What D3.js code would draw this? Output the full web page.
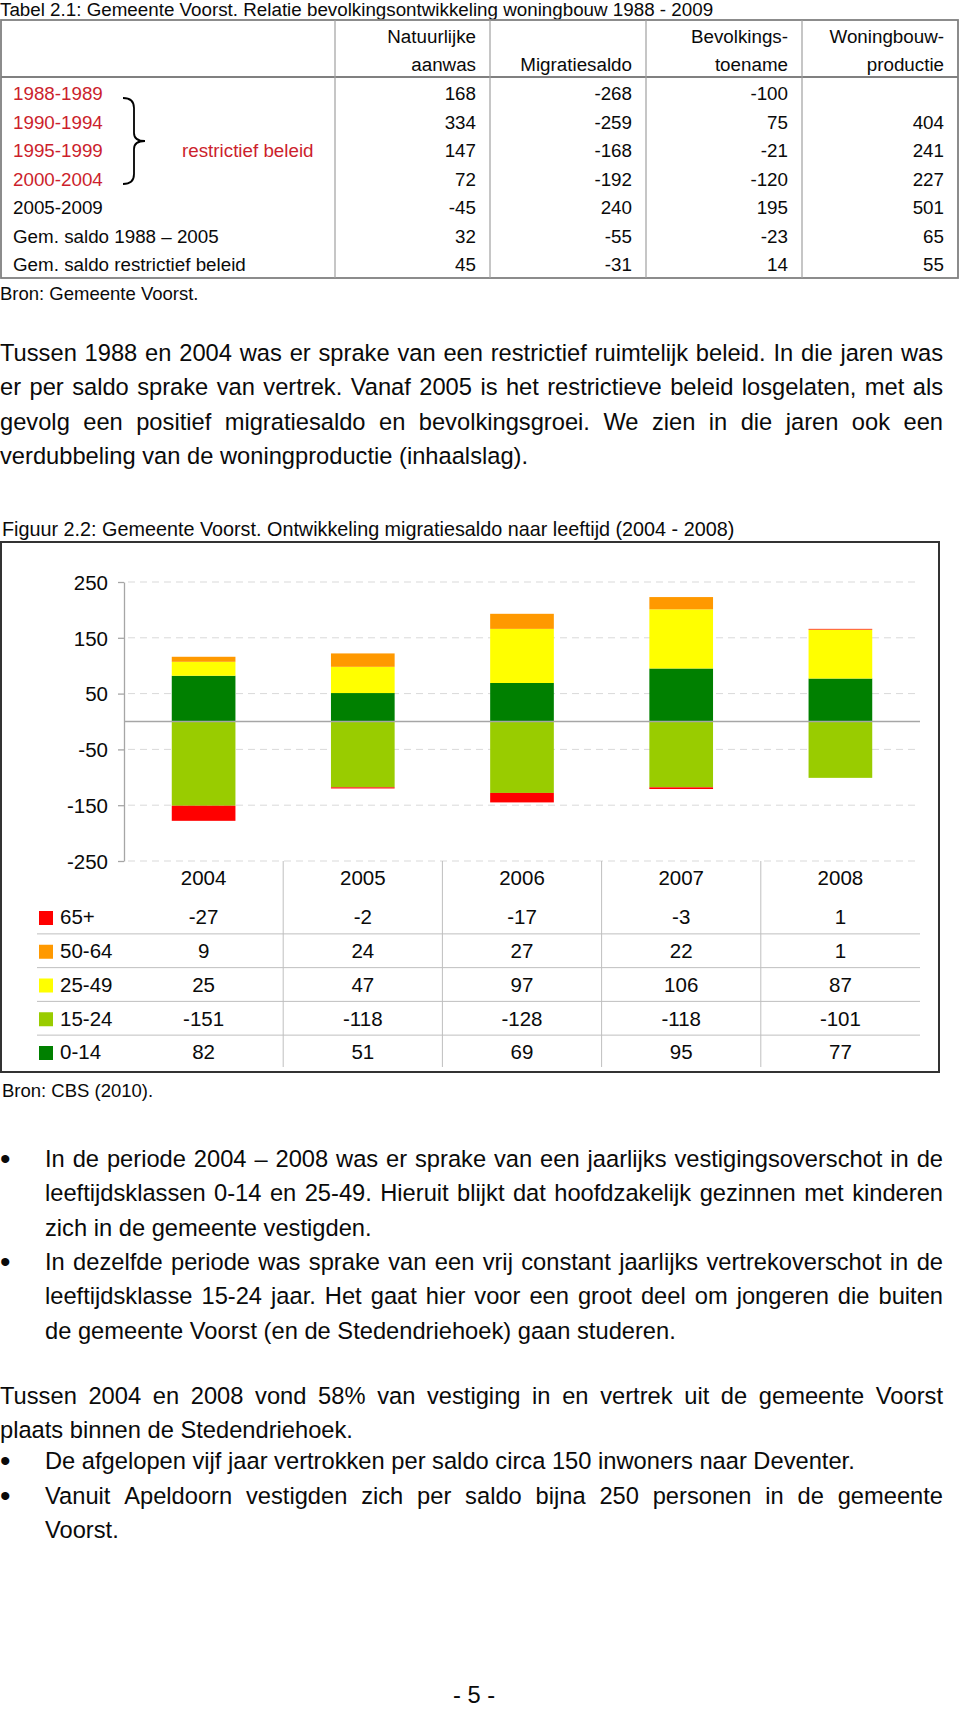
<!DOCTYPE html>
<html>
<head>
<meta charset="utf-8">
<script src="https://cdn.jsdelivr.net/npm/d3@7"></script>
<style>
  body { margin: 0; background: #fff; }
  svg { display: block; font-family: "Liberation Sans", Arial, Helvetica, sans-serif; }
</style>
</head>
<body>
<svg id="page" width="960" height="1710"></svg>
<script>
// ---------------- Tabel 2.1 data ----------------
const tableTitle = "Tabel 2.1: Gemeente Voorst. Relatie bevolkingsontwikkeling woningbouw 1988 - 2009";
const periods = ["1988-1989", "1990-1994", "1995-1999", "2000-2004", "2005-2009",
                 "Gem. saldo 1988 \u2013 2005", "Gem. saldo restrictief beleid"];
const natuurlijkeAanwas = [168, 334, 147, 72, -45, 32, 45];
const migratiesaldo = [-268, -259, -168, -192, 240, -55, -31];
const bevolkingstoename = [-100, 75, -21, -120, 195, -23, 14];
const woningbouwproductie = [null, 404, 241, 227, 501, 65, 55];
const headerLine1 = ["Natuurlijke", "", "Bevolkings-", "Woningbouw-"];
const headerLine2 = ["aanwas", "Migratiesaldo", "toename", "productie"];
const restrictiefPeriods = ["1988-1989", "1990-1994", "1995-1999", "2000-2004"];
const restrictiefLabel = "restrictief beleid";
const tableSource = "Bron: Gemeente Voorst.";

// ---------------- Figuur 2.2 data ----------------
const figTitle = "Figuur 2.2: Gemeente Voorst. Ontwikkeling migratiesaldo naar leeftijd (2004 - 2008)";
const years = ["2004", "2005", "2006", "2007", "2008"];
const ageGroups = ["0-14", "15-24", "25-49", "50-64", "65+"];
const age0_14 = [82, 51, 69, 95, 77];
const age15_24 = [-151, -118, -128, -118, -101];
const age25_49 = [25, 47, 97, 106, 87];
const age50_64 = [9, 24, 27, 22, 1];
const age65plus = [-27, -2, -17, -3, 1];
const ageColors = ["#008000", "#99cc00", "#ffff00", "#ff9900", "#ff0000"];
const yTicks = [250, 150, 50, -50, -150, -250];
const dataTableOrder = ["65+", "50-64", "25-49", "15-24", "0-14"];
const figSource = "Bron: CBS (2010).";

// ---------------- Body text ----------------
const para1 = [
  "Tussen 1988 en 2004 was er sprake van een restrictief ruimtelijk beleid. In die jaren was",
  "er per saldo sprake van vertrek. Vanaf 2005 is het restrictieve beleid losgelaten, met als",
  "gevolg een positief migratiesaldo en bevolkingsgroei. We zien in die jaren ook een",
  "verdubbeling van de woningproductie (inhaalslag)."
];
const bullet1 = [
  "In de periode 2004 \u2013 2008 was er sprake van een jaarlijks vestigingsoverschot in de",
  "leeftijdsklassen 0-14 en 25-49. Hieruit blijkt dat hoofdzakelijk gezinnen met kinderen",
  "zich in de gemeente vestigden."
];
const bullet2 = [
  "In dezelfde periode was sprake van een vrij constant jaarlijks vertrekoverschot in de",
  "leeftijdsklasse 15-24 jaar. Het gaat hier voor een groot deel om jongeren die buiten",
  "de gemeente Voorst (en de Stedendriehoek) gaan studeren."
];
const para3 = [
  "Tussen 2004 en 2008 vond 58% van vestiging in en vertrek uit de gemeente Voorst",
  "plaats binnen de Stedendriehoek."
];
const bullet3 = ["De afgelopen vijf jaar vertrokken per saldo circa 150 inwoners naar Deventer."];
const bullet4 = [
  "Vanuit Apeldoorn vestigden zich per saldo bijna 250 personen in de gemeente",
  "Voorst."
];
const pageNumber = "- 5 -";

// =================================================
const svg = d3.select("#page");
svg.append("rect").attr("width", 960).attr("height", 1710).attr("fill", "#fff");

const TXT = "#0a0a0a";
const RED = "#cc1f2d";

// ---------- Tabel 2.1 ----------
const tfs = 18.8;
svg.append("text").attr("x", 0).attr("y", 16).attr("font-size", 18.8).attr("fill", TXT).text(tableTitle);

const tTop = 20, tSep = 77, tBottom = 278, tLeft = 1, tRight = 958;
const colEdges = [335, 490, 646, 802, 958];
const rowY = d3.scaleLinear().domain([0, 1]).range([93.5, 122]);

const tg = svg.append("g");
tg.append("rect").attr("x", tLeft).attr("y", tTop).attr("width", tRight - tLeft).attr("height", tBottom - tTop)
  .attr("fill", "none").attr("stroke", "#808080").attr("stroke-width", 1.8);
tg.append("line").attr("x1", tLeft).attr("x2", tRight).attr("y1", tSep).attr("y2", tSep)
  .attr("stroke", "#808080").attr("stroke-width", 2.2);
tg.selectAll("line.col").data(colEdges.slice(0, 4)).join("line").attr("class", "col")
  .attr("x1", d => d).attr("x2", d => d).attr("y1", tTop).attr("y2", tBottom)
  .attr("stroke", "#a0a0a0").attr("stroke-width", 1.2);

// headers
tg.selectAll("text.h1").data(headerLine1).join("text").attr("class", "h1")
  .attr("x", (d, i) => colEdges[i + 1] - 14).attr("y", 36 + 0.36 * tfs)
  .attr("text-anchor", "end").attr("font-size", tfs).attr("fill", TXT).text(d => d);
tg.selectAll("text.h2").data(headerLine2).join("text").attr("class", "h2")
  .attr("x", (d, i) => colEdges[i + 1] - 14).attr("y", 64.5 + 0.36 * tfs)
  .attr("text-anchor", "end").attr("font-size", tfs).attr("fill", TXT).text(d => d);

// row labels
tg.selectAll("text.rl").data(periods).join("text").attr("class", "rl")
  .attr("x", 13).attr("y", (d, i) => rowY(i) + 0.36 * tfs)
  .attr("font-size", tfs).attr("fill", d => restrictiefPeriods.includes(d) ? RED : TXT).text(d => d);

// values
const tableCols = [natuurlijkeAanwas, migratiesaldo, bevolkingstoename, woningbouwproductie];
tableCols.forEach((col, c) => {
  tg.selectAll("text.v" + c).data(col).join("text").attr("class", "v" + c)
    .attr("x", colEdges[c + 1] - 14).attr("y", (d, i) => rowY(i) + 0.36 * tfs)
    .attr("text-anchor", "end").attr("font-size", tfs).attr("fill", TXT)
    .text(d => d === null ? "" : String(d));
});

// brace + label
tg.append("path")
  .attr("d", "M123,98 Q134,98 134,108 L134,133 Q134,141 145,141 Q134,141 134,149 L134,174 Q134,184 123,184")
  .attr("fill", "none").attr("stroke", "#000").attr("stroke-width", 1.8);
tg.append("text").attr("x", 182).attr("y", rowY(2) + 0.36 * tfs).attr("font-size", tfs)
  .attr("fill", RED).text(restrictiefLabel);

svg.append("text").attr("x", 0).attr("y", 300).attr("font-size", 18.5).attr("fill", TXT).text(tableSource);

// ---------- Body text helper ----------
const bfs = 23.7;
function textLine(str, x0, x1, yCenter, justify) {
  const t = svg.append("text").attr("y", yCenter + 0.3 * bfs).attr("font-size", bfs).attr("fill", TXT);
  if (!justify) { t.attr("x", x0).text(str); return; }
  const words = str.split(" ");
  const spans = words.map(w => t.append("tspan").text(w));
  const widths = spans.map(s => s.node().getComputedTextLength());
  const gap = (x1 - x0 - d3.sum(widths)) / (words.length - 1);
  let cx = x0;
  spans.forEach((s, i) => { s.attr("x", cx); cx += widths[i] + gap; });
}
function block(lines, x0, x1, y0, step, bullet) {
  lines.forEach((l, i) => textLine(l, x0, x1, y0 + i * step, i < lines.length - 1));
  if (bullet) {
    svg.append("text").attr("x", 0).attr("y", y0 + 0.36 * bfs).attr("font-size", 30).attr("fill", TXT).text("\u2022");
  }
}
const LS = 34.3;
block(para1, 0, 943, 354, LS, false);
block(bullet1, 45, 943, 1160, LS, true);
block(bullet2, 45, 943, 1263, LS, true);
block(para3, 0, 943, 1397, LS, false);
block(bullet3, 45, 943, 1462, LS, true);
block(bullet4, 45, 943, 1497, LS, true);
svg.append("text").attr("x", 474).attr("y", 1703).attr("text-anchor", "middle")
  .attr("font-size", bfs).attr("fill", TXT).text(pageNumber);

// ---------- Figuur 2.2 ----------
svg.append("text").attr("x", 2).attr("y", 536).attr("font-size", 19.8).attr("fill", TXT).text(figTitle);
svg.append("rect").attr("x", 1).attr("y", 542).attr("width", 938).attr("height", 530)
  .attr("fill", "#fff").attr("stroke", "#333").attr("stroke-width", 2);

const cfs = 20.5;
const y = d3.scaleLinear().domain([-250, 250]).range([861, 582]);
const x = d3.scaleBand().domain(years).range([124, 920]).paddingInner(0.6).paddingOuter(0.3);
const cg = svg.append("g");

// gridlines
cg.selectAll("line.grid").data(yTicks).join("line").attr("class", "grid")
  .attr("x1", 128).attr("x2", 916).attr("y1", d => y(d)).attr("y2", d => y(d))
  .attr("stroke", "#d9d9d9").attr("stroke-width", 1).attr("stroke-dasharray", "7,5");

// stacked bars
const rows = years.map((yr, i) => ({
  year: yr, "0-14": age0_14[i], "15-24": age15_24[i], "25-49": age25_49[i],
  "50-64": age50_64[i], "65+": age65plus[i]
}));
const series = d3.stack().keys(ageGroups).offset(d3.stackOffsetDiverging)(rows);
const color = d3.scaleOrdinal().domain(ageGroups).range(ageColors);
cg.selectAll("g.series").data(series).join("g").attr("class", "series")
  .attr("fill", s => color(s.key))
  .selectAll("rect").data(s => s).join("rect")
  .attr("x", d => x(d.data.year)).attr("width", x.bandwidth())
  .attr("y", d => y(Math.max(d[0], d[1])))
  .attr("height", d => Math.abs(y(d[0]) - y(d[1])));

// zero line
cg.append("line").attr("x1", 124).attr("x2", 920).attr("y1", y(0)).attr("y2", y(0))
  .attr("stroke", "#a6a6a6").attr("stroke-width", 1.3);

// y axis
const ax = cg.append("g").attr("transform", "translate(124,0)")
  .call(d3.axisLeft(y).tickValues(yTicks).tickSize(6).tickSizeOuter(0).tickPadding(10).tickFormat(d => String(d)));
ax.select(".domain").attr("stroke", "#a6a6a6").attr("stroke-width", 1.3);
ax.selectAll(".tick line").attr("stroke", "#a6a6a6").attr("stroke-width", 1.3);
ax.selectAll(".tick text").attr("font-size", cfs).attr("fill", TXT)
  .attr("font-family", '"Liberation Sans", Arial, sans-serif').attr("dy", "0.36em");

// data table
const rowC = d3.scaleLinear().domain([0, 1]).range([917, 950.75]);
const valuesByGroup = { "0-14": age0_14, "15-24": age15_24, "25-49": age25_49, "50-64": age50_64, "65+": age65plus };
const step = x.step();
const bounds = d3.range(1, years.length).map(k => x.range()[0] + k * step);
cg.selectAll("line.vt").data(bounds).join("line").attr("class", "vt")
  .attr("x1", d => d).attr("x2", d => d).attr("y1", 861).attr("y2", 1067)
  .attr("stroke", "#bfbfbf").attr("stroke-width", 1);
cg.selectAll("line.ht").data(d3.range(dataTableOrder.length - 1)).join("line").attr("class", "ht")
  .attr("x1", 37).attr("x2", 920).attr("y1", i => (rowC(i) + rowC(i + 1)) / 2).attr("y2", i => (rowC(i) + rowC(i + 1)) / 2)
  .attr("stroke", "#bfbfbf").attr("stroke-width", 1);
cg.selectAll("text.yr").data(years).join("text").attr("class", "yr")
  .attr("x", d => x(d) + x.bandwidth() / 2).attr("y", 878 + 0.36 * cfs)
  .attr("text-anchor", "middle").attr("font-size", cfs).attr("fill", TXT).text(d => d);
dataTableOrder.forEach((g, r) => {
  const yc = rowC(r);
  cg.append("rect").attr("x", 39).attr("y", yc - 6).attr("width", 14).attr("height", 14).attr("fill", color(g));
  cg.append("text").attr("x", 60).attr("y", yc + 0.36 * cfs).attr("font-size", cfs).attr("fill", TXT).text(g);
  cg.selectAll("text.val" + r).data(valuesByGroup[g]).join("text").attr("class", "val" + r)
    .attr("x", (d, i) => x(years[i]) + x.bandwidth() / 2).attr("y", yc + 0.36 * cfs)
    .attr("text-anchor", "middle").attr("font-size", cfs).attr("fill", TXT).text(d => String(d));
});

svg.append("text").attr("x", 2).attr("y", 1097).attr("font-size", 18.5).attr("fill", TXT).text(figSource);
</script>
</body>
</html>
